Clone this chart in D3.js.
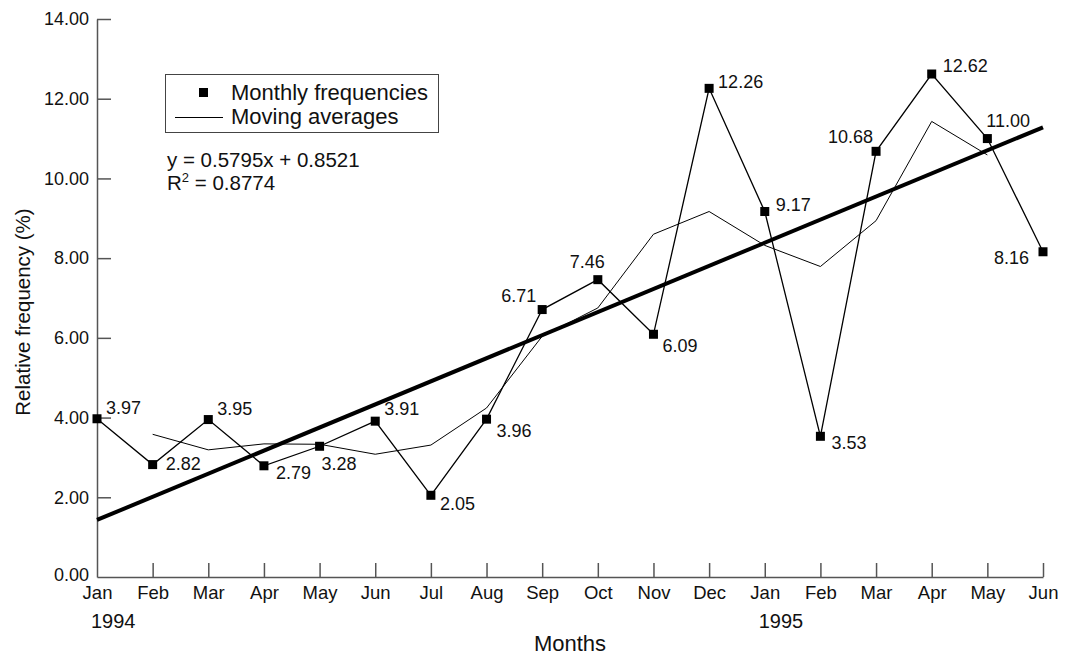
<!DOCTYPE html>
<html>
<head>
<meta charset="utf-8">
<script src="https://cdn.jsdelivr.net/npm/d3@7"></script>
<style>
  body { margin: 0; background: #fff; }
  svg text { font-family: "Liberation Sans", Arial, sans-serif; fill: #111; }
</style>
</head>
<body>
<div id="chart"></div>
<script>
// Data
var months = ["Jan", "Feb", "Mar", "Apr", "May", "Jun", "Jul", "Aug", "Sep", "Oct", "Nov", "Dec",
              "Jan", "Feb", "Mar", "Apr", "May", "Jun"];
var years = [{ idx: 0, label: "1994" }, { idx: 12, label: "1995" }];
var monthly = [3.97, 2.82, 3.95, 2.79, 3.28, 3.91, 2.05, 3.96, 6.71, 7.46, 6.09, 12.26,
               9.17, 3.53, 10.68, 12.62, 11.00, 8.16];
// moving averages, Feb 1994 .. May 1995
var movingAvg = [null, 3.58, 3.19, 3.34, 3.33, 3.08, 3.31, 4.24, 6.04, 6.75, 8.60, 9.17,
                 8.32, 7.79, 8.94, 11.43, 10.59, null];
var trendSlope = 0.5795, trendIntercept = 0.8521, rSquared = "0.8774";
var yTicks = [0, 2, 4, 6, 8, 10, 12, 14];

// label placement per point: [dx, dy, anchor]
var labelPos = [
  [9, -5, "start"], [13, 5, "start"], [9, -5, "start"], [12, 13, "start"],
  [2, 24, "start"], [9, -6, "start"], [9, 15, "start"], [10, 18, "start"],
  [-6, -8, "end"], [7, -12, "end"], [9, 18, "start"], [9, 0, "start"],
  [11, -1, "start"], [11, 13, "start"], [-3, -8, "end"], [11, -2, "start"],
  [-1, -12, "start"], [-14, 12, "end"]
];

var W = 1071, H = 657;
var mLeft = 97, mRight = 1043, mTop = 19, mBottom = 577;

var svg = d3.select("#chart").append("svg")
    .attr("width", W)
    .attr("height", H);

var x = d3.scaleLinear().domain([0, months.length - 1]).range([mLeft, mRight]);
var y = d3.scaleLinear().domain([0, 14]).range([mBottom, mTop]);

var axisColor = "#555";

// Y axis: ticks pointing inward
var yAxis = svg.append("g")
    .attr("transform", "translate(" + mLeft + ",0)")
    .call(d3.axisRight(y).tickValues(yTicks).tickSize(14).tickSizeOuter(0).tickFormat(d3.format(".2f")));
yAxis.select(".domain").attr("stroke", axisColor).attr("stroke-width", 1.5);
yAxis.selectAll(".tick line").attr("stroke", axisColor).attr("stroke-width", 1.5);
yAxis.selectAll(".tick text")
    .attr("x", -8)
    .attr("text-anchor", "end")
    .attr("font-family", null)
    .attr("font-size", null)
    .style("font-size", "18px")
    .style("fill", "#111");
yAxis.selectAll(".tick").filter(function (d) { return d === 0; }).select("line").remove();
yAxis.selectAll(".tick").filter(function (d) { return d === 0; }).select("text").attr("dy", "0.2em");

// X axis: ticks pointing up
var xAxis = svg.append("g")
    .attr("transform", "translate(0," + mBottom + ")")
    .call(d3.axisTop(x).tickValues(d3.range(months.length)).tickSize(14).tickSizeOuter(0)
        .tickFormat(function (i) { return months[i]; }));
xAxis.select(".domain").attr("stroke", axisColor).attr("stroke-width", 1.5);
xAxis.selectAll(".tick line").attr("stroke", axisColor).attr("stroke-width", 1.5);
xAxis.selectAll(".tick").filter(function (d) { return d === 0; }).select("line").remove();
xAxis.selectAll(".tick text")
    .attr("y", 22)
    .attr("dy", 0)
    .attr("font-family", null)
    .attr("font-size", null)
    .style("font-size", "18.5px")
    .style("fill", "#111");

// year labels
svg.selectAll(".year")
    .data(years)
    .enter()
    .append("text")
    .attr("class", "year")
    .attr("x", function (d) { return x(d.idx) - 6; })
    .attr("y", 628)
    .style("font-size", "20px")
    .text(function (d) { return d.label; });

// Axis titles
svg.append("text")
    .attr("x", (mLeft + mRight) / 2)
    .attr("y", 651)
    .attr("text-anchor", "middle")
    .style("font-size", "22px")
    .text("Months");

svg.append("text")
    .attr("transform", "translate(30,312) rotate(-90)")
    .attr("text-anchor", "middle")
    .style("font-size", "20.5px")
    .text("Relative frequency (%)");

// Trend line
var trendX = [0, months.length - 1];
svg.append("line")
    .attr("x1", x(trendX[0]))
    .attr("y1", y(trendSlope * (trendX[0] + 1) + trendIntercept))
    .attr("x2", x(trendX[1]))
    .attr("y2", y(trendSlope * (trendX[1] + 1) + trendIntercept))
    .attr("stroke", "#000")
    .attr("stroke-width", 4);

// Moving averages
var line = d3.line()
    .defined(function (d) { return d != null; })
    .x(function (d, i) { return x(i); })
    .y(function (d) { return y(d); });

svg.append("path")
    .datum(movingAvg)
    .attr("d", line)
    .attr("fill", "none")
    .attr("stroke", "#000")
    .attr("stroke-width", 1);

// Monthly frequencies
svg.append("path")
    .datum(monthly)
    .attr("d", line)
    .attr("fill", "none")
    .attr("stroke", "#000")
    .attr("stroke-width", 1.3);

svg.append("g")
    .selectAll("rect")
    .data(monthly)
    .enter()
    .append("rect")
    .attr("x", function (d, i) { return x(i) - 4.5; })
    .attr("y", function (d) { return y(d) - 4.5; })
    .attr("width", 9)
    .attr("height", 9)
    .attr("fill", "#000");

// Value labels
svg.append("g")
    .selectAll("text")
    .data(monthly)
    .enter()
    .append("text")
    .attr("x", function (d, i) { return x(i) + labelPos[i][0]; })
    .attr("y", function (d, i) { return y(d) + labelPos[i][1]; })
    .attr("text-anchor", function (d, i) { return labelPos[i][2]; })
    .style("font-size", "18px")
    .text(function (d) { return d.toFixed(2); });

// Legend
var legend = svg.append("g");
legend.append("rect")
    .attr("x", 165.5).attr("y", 74.5)
    .attr("width", 273).attr("height", 58)
    .attr("fill", "#fff")
    .attr("stroke", "#444")
    .attr("stroke-width", 1);
legend.append("rect")
    .attr("x", 199).attr("y", 88)
    .attr("width", 9).attr("height", 9)
    .attr("fill", "#000");
legend.append("text")
    .attr("x", 231).attr("y", 100)
    .style("font-size", "22px")
    .text("Monthly frequencies");
legend.append("line")
    .attr("x1", 175).attr("x2", 223)
    .attr("y1", 117.5).attr("y2", 117.5)
    .attr("stroke", "#000").attr("stroke-width", 1);
legend.append("text")
    .attr("x", 231).attr("y", 124)
    .style("font-size", "22px")
    .text("Moving averages");

// Equation
svg.append("text")
    .attr("x", 167).attr("y", 167)
    .style("font-size", "20.5px")
    .text("y = " + trendSlope + "x + " + trendIntercept);
var r2 = svg.append("text")
    .attr("x", 167).attr("y", 190)
    .style("font-size", "20.5px");
r2.append("tspan").text("R");
r2.append("tspan").attr("dy", -8).style("font-size", "13px").text("2");
r2.append("tspan").attr("dy", 8).text(" = " + rSquared);
</script>
</body>
</html>
